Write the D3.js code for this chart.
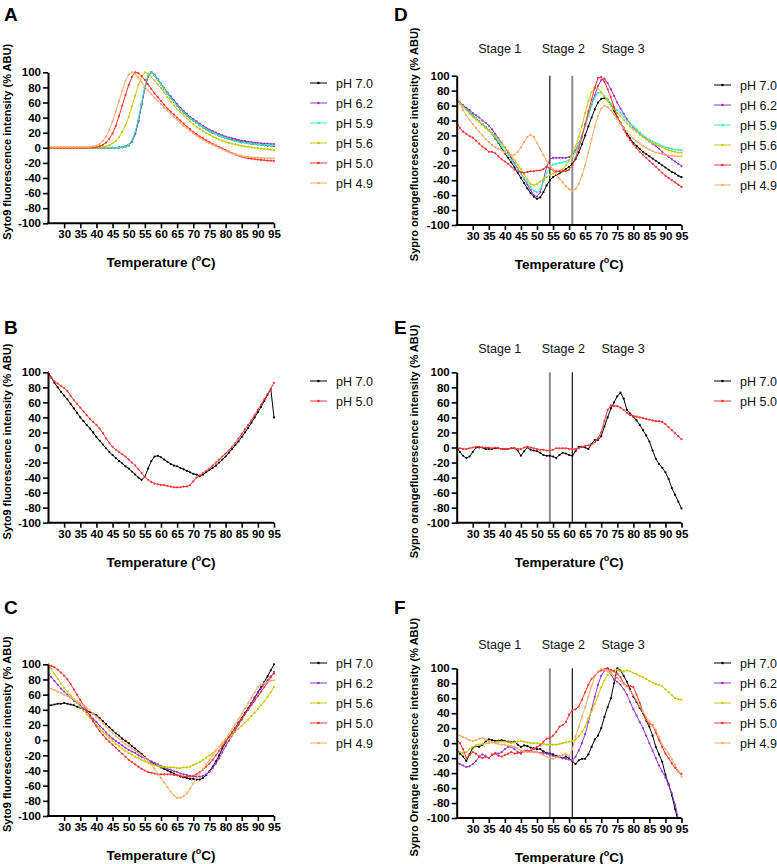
<!DOCTYPE html>
<html><head><meta charset="utf-8">
<script src="https://cdn.jsdelivr.net/npm/d3@7"></script>
<style>
body{margin:0;background:#fff;}
svg text{font-family:"Liberation Sans",Arial,sans-serif;}
</style>
</head><body>
<svg id="chart" width="777" height="864"></svg>
<script>
// ---------- DATA ----------
const temps = [25,26,27,28,29,30,31,32,33,34,35,36,37,38,39,40,41,42,43,44,45,46,47,48,49,50,51,52,53,54,55,56,57,58,59,60,61,62,63,64,65,66,67,68,69,70,71,72,73,74,75,76,77,78,79,80,81,82,83,84,85,86,87,88,89,90,91,92,93,94,95];
const xTickLabels = [30,35,40,45,50,55,60,65,70,75,80,85,90,95];
const yTickLabels = [-100,-80,-60,-40,-20,0,20,40,60,80,100];
const stageLabels = ["Stage 1","Stage 2","Stage 3"];
const stageLabelTemps = [38.4,58.2,76.8];
const stageLineTemps = [54,61];

// Panel A (Syto9, 6 pH)
const A_pH70 = [0,0,0,0,0,0,0,0,0,0, 0,0,0,0,0,0,0,0,0,0, 0,0,0.5,1,2,4,9,19,36,58, 80,95,100,96,90,84,78,72,66,61, 56,51,47,43,39,36,33,30,27,24.5, 22,20,18,16,14.5,13,11.5,10.5,9.5,8.5, 7.5,7,6,5.5,5,4.5,4,3.5,3,3, 2.5];
const A_pH62 = [0,0,0,0,0,0,0,0,0,0, 0,0,0,0,0,0,0,0,0,0, 0,0,0,0.5,1.5,3,8,18,35,57, 79,94,100,97,91,85,79,73,68,63, 58,53,49,45,41,38,35,32,29,26.5, 24,22,20,18,16.5,15,13.5,12.5,11.5,10.5, 9.5,9,8,7.5,7,6.5,6,5.5,5.5,5, 5];
const A_pH59 = [0,0,0,0,0,0,0,0,0,0, 0,0,0,0,0,0,0,0,0,0, 0,0,0.5,1,2,4,10,21,38,60, 82,96,100,96,90,84,78,72,66,61, 56,51,47,43,39,36,33,30,27,24.5, 22,20,18,16,14.5,13,11.5,10,9,8, 7,6.5,6,5.5,5,4.5,4,3.5,3.5,3, 3];
const A_pH56 = [0,0,0,0,0,0,0,0,0,0, 0,0,0,0,0,0,0.5,1,2,3.5, 6,9,14,21,30,41,55,69,83,94, 100,98,94,89,84,79,73,67,61,56, 51,47,43,39,35,31,28,25,22,19.5, 17,15,13,11,9.5,8,6.5,5.5,4.5,3.5, 2.5,2,1,0.5,0,-0.5,-1,-1.5,-2,-2.5, -3];
const A_pH50 = [0,0,0,0,0,0,0,0,0,0, 0,0,0,0,0.5,1,2,4,7,12, 19,29,42,56,70,83,94,100,99,95, 90,84,78,72,67,62,57,52,48,44, 40,36,32,28,25,21,18,15,12.5,10, 7.5,5,3,1,-1,-3,-5,-7,-9,-10.5, -12,-13,-14,-14.5,-15,-15.5,-16,-16.5,-17,-17, -17.5];
const A_pH49 = [1,1,1,1,1,1,1,1,1,1, 1,1,1,1,2,3,5,9,15,24, 35,48,62,76,89,97,100,98,93,87, 81,76,71,66,62,58,53,49,45,41, 37,33,29,26,22,19,16,13,10.5,8, 6,4,2,0,-2,-4,-6,-7.5,-9,-10, -11,-11.5,-12,-12.5,-13,-13,-13.5,-13.5,-14,-14, -14];

// Panel B (Syto9, 2 pH)
const B_pH70 = [100,93,86,80,74,69,64,58,52,46, 40,35,30,25,20,14,9,4,-1,-6, -10,-14,-18,-21,-25,-28,-32,-36,-40,-43, -39,-28,-18,-12,-11,-13,-16,-19,-22,-24, -25,-27,-29,-31,-33,-35,-36,-38,-36,-33, -30,-27,-24,-20,-16,-12,-7,-2,3,8, 14,20,26,33,40,47,54,62,70,78, 40];
const B_pH50 = [100,93,88,85,82,79,75,69,63,58, 53,48,43,38,34,30,25,19,12,6, 1,-3,-6,-9,-12,-16,-20,-24,-29,-34, -39,-43,-46,-48,-49,-50,-50,-51,-52,-53, -53,-53,-52,-52,-50,-45,-40,-37,-34,-31, -28,-24,-20,-16,-12,-8,-4,1,6,12, 18,24,30,36,43,50,57,64,71,78, 86];

// Panel C (Syto9, 5 pH)
const C_pH70 = [46,46,47,48,48,49,48,47,46,44, 43,41,39,37,35,33,29,25,21,17, 13,9,6,2,-1,-4,-8,-11,-15,-18, -22,-26,-29,-32,-34,-36,-38,-40,-42,-44, -46,-48,-49,-50,-51,-51,-52,-52,-50,-46, -41,-35,-28,-20,-11,-3,4,10,16,23, 29,36,42,49,56,63,70,77,84,92, 100];
const C_pH62 = [88,83,78,73,68,64,60,56,52,49, 46,42,37,33,28,24,19,15,10,6, 2,-1,-4,-7,-10,-13,-15,-17,-20,-22, -24,-26,-28,-30,-32,-34,-36,-38,-39,-41, -42,-44,-45,-46,-47,-48,-48,-48,-47,-45, -42,-37,-31,-24,-16,-8,-1,6,13,20, 27,34,41,48,55,62,68,74,79,84, 88];
const C_pH56 = [100,94,87,81,75,69,64,59,54,49, 44,39,34,29,25,20,16,11,7,3, -1,-5,-8,-11,-14,-17,-19,-22,-24,-26, -28,-30,-31,-33,-34,-35,-35,-36,-36,-36, -37,-37,-36,-36,-35,-33,-31,-29,-26,-23, -20,-17,-13,-9,-5,-1,3,7,11,15, 19,23,27,32,36,41,46,51,57,63, 70];
const C_pH50 = [100,98,96,93,89,85,80,74,67,60, 53,46,39,32,25,18,12,7,2,-2, -6,-10,-14,-18,-22,-26,-29,-32,-35,-38, -40,-42,-43,-44,-45,-45,-45,-45,-45,-46, -46,-47,-48,-48,-48,-47,-45,-42,-39,-35, -31,-26,-20,-14,-8,-2,4,10,16,22, 28,34,40,46,52,58,64,70,76,83, 90];
const C_pH49 = [69,68,66,64,62,60,58,56,54,51, 49,46,43,39,35,31,27,22,18,13, 9,5,2,-2,-5,-8,-11,-14,-17,-20, -23,-27,-32,-38,-44,-50,-56,-62,-68,-73, -76,-76,-74,-70,-64,-57,-50,-44,-38,-32, -26,-20,-14,-9,-3,1,8,14,21,28, 35,42,49,56,63,70,73,75,77,78, 79];

// Panel D (Sypro orange, 6 pH)
const D_pH70 = [68,64,60,56,51,47,43,39,35,31, 27,22,16,10,3,-4,-10,-16,-23,-30, -37,-44,-51,-57,-62,-65,-63,-56,-47,-40, -36,-33,-31,-28,-25,-22,-18,-12,-3,8, 20,32,44,55,64,69,70,68,62,53, 44,37,30,23,16,10,6,2,-2,-5, -8,-11,-14,-17,-20,-23,-26,-29,-31,-34, -36];
const D_pH62 = [66,63,60,57,54,50,47,44,40,37, 33,28,22,16,10,4,-3,-10,-17,-24, -31,-38,-46,-53,-60,-62,-56,-40,-22,-12, -10,-10,-10,-10,-10,-9,-6,0,9,20, 33,47,61,74,86,94,96,90,82,73, 64,56,49,42,36,31,27,23,19,15, 12,9,6,2,-2,-6,-9,-12,-15,-18, -21];
const D_pH59 = [67,63,59,55,51,47,43,39,35,31, 27,22,17,11,5,-1,-7,-13,-19,-25, -31,-37,-43,-49,-54,-56,-52,-42,-30,-22, -19,-18,-17,-16,-15,-13,-9,-3,8,20, 33,47,60,71,77,77,73,68,63,58, 54,50,45,40,36,32,28,24,20,17, 14,12,10,8,6,4,3,2,1,0.5, 0];
const D_pH56 = [68,63,58,54,49,45,41,38,34,30, 27,23,19,14,9,4,-1,-7,-13,-19, -25,-32,-39,-45,-47,-45,-42,-39,-36,-33, -31,-29,-27,-25,-20,-14,-6,5,18,33, 50,66,78,84,83,78,72,66,60,55, 50,46,41,36,32,28,25,21,18,15, 12,10,8,6,4,2,0,-1,-2,-3, -3];
const D_pH50 = [38,30,25,22,19,17,13,9,5,2, -2,-2,-4,-8,-12,-15,-18,-22,-26,-28, -29,-30,-29,-28,-28,-27,-27,-25,-22,-24, -27,-28,-28,-28,-28,-26,-20,-10,3,18, 35,52,68,84,97,98,92,82,71,58, 45,36,28,20,14,8,3,-2,-6,-10, -14,-18,-22,-26,-30,-34,-37,-40,-43,-46, -49];
const D_pH49 = [72,62,54,47,41,35,30,25,20,15, 11,7,4,2,0,-3,-5,-7,-6,-2, 4,11,18,21,18,10,2,-6,-14,-20, -26,-32,-38,-43,-48,-52,-54,-52,-45,-34, -20,-3,15,32,46,56,60,58,54,48, 42,36,30,25,20,16,12,9,6,3, 1,-1,-3,-4,-5,-6,-7,-7,-8,-8, -8];

// Panel E (Sypro orange, 2 pH)
const E_pH70 = [0,-6,-11,-14,-12,-6,0,0,0,-2, -2,-2,-1,-1,-2,-2,-2,-1,-1,-4, -11,-5,0,-3,-4,-5,-7,-10,-11,-11, -12,-14,-10,-7,-8,-10,-11,-5,1,1, 0,-2,5,10,10,15,28,40,52,60, 68,73,65,50,45,41,36,30,23,16, 8,-4,-15,-22,-27,-33,-42,-54,-63,-72, -81];
const E_pH50 = [-1,-1,-2,-2,-1,0,1,1,0,0, 0,-1,0,-1,-2,-2,-2,-1,-1,-2, -2,0,1,0,-1,-2,-3,-3,-4,-4, -3,-1,-1,-1,-1,-2,-2,-2,-1,1, 2,3,4,7,12,20,35,50,56,55, 55,53,50,46,43,42,41,40,39,38, 37,36,35,35,34,31,27,23,19,15, 11];

// Panel F (Sypro Orange, 5 pH)
const F_pH70 = [-8,-14,-18,-24,-15,-6,-4,-5,-2,2, 5,4,3,3,4,3,2,1,2,-2, -5,-3,-4,-6,-7,-8,-8,-11,-13,-14, -15,-17,-18,-20,-18,-20,-24,-28,-23,-21, -21,-15,-5,5,10,20,35,48,60,80, 100,97,90,82,72,62,55,47,40,30, 22,10,-5,-15,-25,-42,-55,-70,-88,-105, -120];
const F_pH62 = [-25,-28,-30,-32,-31,-28,-24,-18,-15,-17, -20,-16,-13,-14,-12,-8,-5,-5,-8,-12, -14,-10,-10,-11,-12,-12,-13,-13,-14,-15, -17,-18,-19,-20,-21,-22,-23,-18,-10,0, 12,28,45,62,78,90,97,100,92,85, 82,78,72,65,55,45,37,28,20,10, 0,-10,-20,-30,-38,-46,-56,-67,-82,-100, -118];
const F_pH56 = [-12,-12,-13,-12,-8,-5,-3,-2,-1,0, 0,1,1,2,2,2,1,0,1,2, 3,2,1,0,0,0,-1,-1,-2,-2, -2,-2,-1,0,1,2,3,5,9,15, 22,33,43,52,63,75,84,91,95,97, 98,96,96,97,96,94,92,90,88,86, 83,81,79,78,76,72,68,64,60,59, 58];
const F_pH50 = [5,0,-8,-20,-16,-12,-14,-18,-20,-18, -20,-15,-14,-17,-18,-16,-14,-12,-14,-13, -12,-11,-11,-10,-8,-5,-3,2,6,7, 10,15,22,24,28,38,44,45,49,58, 68,78,86,90,95,97,99,100,98,96, 93,88,80,76,76,75,65,54,42,31, 26,24,14,4,-5,-14,-20,-27,-33,-38, -41];
const F_pH49 = [12,10,8,6,4,3,4,6,7,5, 2,1,0,-1,-2,-2,-3,-4,-5,-7, -10,-11,-12,-12,-12,-12,-14,-16,-18,-20, -21,-19,-18,-16,-14,-18,-8,9,22,35, 48,62,76,89,96,99,98,96,93,90, 87,83,79,75,70,64,57,49,42,35, 29,23,18,8,-2,-8,-14,-21,-29,-37, -45];

const pHColors = {"pH 7.0":"#000000","pH 6.2":"#9933CC","pH 5.9":"#33F2C4","pH 5.6":"#C8C800","pH 5.0":"#FF3333","pH 4.9":"#FFA966"};

// ---------- LAYOUT ----------
const panels = [
  {letter:"A", lx:4, ly:21, x0:48, x1:274, y0:72.3, y1:223.3, legX:336, legY:83, ytitle:"Syto9 fluorescence intensity (% ABU)", ytx:11, stages:null,
   series:[["pH 7.0",A_pH70],["pH 6.2",A_pH62],["pH 5.9",A_pH59],["pH 5.6",A_pH56],["pH 5.0",A_pH50],["pH 4.9",A_pH49]]},
  {letter:"B", lx:4, ly:334, x0:48, x1:274, y0:372.3, y1:522.7, legX:336, legY:381, ytitle:"Syto9 fluorescence intensity (% ABU)", ytx:11, stages:null,
   series:[["pH 7.0",B_pH70],["pH 5.0",B_pH50]]},
  {letter:"C", lx:4, ly:614, x0:48, x1:274, y0:664.3, y1:816, legX:336, legY:663, ytitle:"Syto9 fluorescence intensity (% ABU)", ytx:11, stages:null,
   series:[["pH 7.0",C_pH70],["pH 6.2",C_pH62],["pH 5.6",C_pH56],["pH 5.0",C_pH50],["pH 4.9",C_pH49]]},
  {letter:"D", lx:394, ly:21, x0:456.7, x1:681.5, y0:75.7, y1:225, legX:740, legY:85, ytitle:"Sypro orangefluorescence intensity (% ABU)", ytx:418, stages:{labelY:53, first:"black"},
   series:[["pH 7.0",D_pH70],["pH 6.2",D_pH62],["pH 5.9",D_pH59],["pH 5.6",D_pH56],["pH 5.0",D_pH50],["pH 4.9",D_pH49]]},
  {letter:"E", lx:394, ly:334, x0:456.7, x1:681.5, y0:372.3, y1:522.7, legX:740, legY:381, ytitle:"Sypro orangefluorescence intensity (% ABU)", ytx:418, stages:{labelY:353, first:"gray"},
   series:[["pH 7.0",E_pH70],["pH 5.0",E_pH50]]},
  {letter:"F", lx:394, ly:614, x0:456.7, x1:681.5, y0:668.3, y1:818, legX:740, legY:663, ytitle:"Sypro Orange fluorescence intensity (% ABU)", ytx:418, stages:{labelY:649, first:"gray"},
   series:[["pH 7.0",F_pH70],["pH 6.2",F_pH62],["pH 5.6",F_pH56],["pH 5.0",F_pH50],["pH 4.9",F_pH49]]}
];

const svg = d3.select("#chart");

panels.forEach((p, pi) => {
  const x = d3.scaleLinear().domain([25,95]).range([p.x0,p.x1]);
  const y = d3.scaleLinear().domain([-100,100]).range([p.y1,p.y0]);
  const g = svg.append("g");

  // panel letter
  g.append("text").attr("x",p.lx).attr("y",p.ly).attr("font-size",19).attr("font-weight","bold").text(p.letter);

  // clip
  const cid = "clip"+pi;
  svg.append("clipPath").attr("id",cid).append("rect")
    .attr("x",p.x0).attr("y",p.y0-2).attr("width",p.x1-p.x0+2).attr("height",p.y1-p.y0+3);

  // stage lines and labels
  if (p.stages) {
    stageLineTemps.forEach((t,i) => {
      const isGray = (p.stages.first==="gray") ? i===0 : i===1;
      g.append("line").attr("x1",x(t)).attr("x2",x(t)).attr("y1",y(100)).attr("y2",y(-100))
        .attr("stroke",isGray?"#8c8c8c":"#000").attr("stroke-width",isGray?2:1.1);
    });
    stageLabels.forEach((s,i) => {
      g.append("text").attr("x",x(stageLabelTemps[i])).attr("y",p.stages.labelY)
        .attr("text-anchor","middle").attr("font-size",12.5).attr("fill","#111").text(s);
    });
  }

  // series
  const line = d3.line().x((d,i)=>x(temps[i])).y(d=>y(d)).defined(d=>d!==null);
  const sg = g.append("g").attr("clip-path","url(#"+cid+")");
  p.series.forEach(([name,vals]) => {
    const col = pHColors[name];
    sg.append("path").datum(vals).attr("d",line).attr("fill","none").attr("stroke",col).attr("stroke-width",1);
    sg.selectAll(null).data(vals.map((v,i)=>[temps[i],v]).filter(d=>d[1]!==null && d[1]>=-100 && d[1]<=100))
      .enter().append("circle").attr("cx",d=>x(d[0])).attr("cy",d=>y(d[1])).attr("r",1.1).attr("fill",col);
  });

  // axes
  const yAxis = d3.axisLeft(y).tickValues(yTickLabels).tickSize(5).tickSizeOuter(0).tickPadding(2).tickFormat(d=>String(d));
  const gy = g.append("g").attr("transform",`translate(${p.x0},0)`).call(yAxis);
  const xAxis = d3.axisBottom(x).tickValues(xTickLabels).tickSize(5).tickSizeOuter(0).tickPadding(2).tickFormat(d=>String(d));
  const gx = g.append("g").attr("transform",`translate(0,${p.y1})`).call(xAxis);
  [gx,gy].forEach(a => {
    a.select(".domain").attr("stroke","#000").attr("stroke-width",2);
    a.selectAll(".tick line").attr("stroke","#000").attr("stroke-width",1.6);
    a.selectAll(".tick text").attr("font-family","Liberation Sans, Arial, sans-serif").attr("font-size",11.5).attr("font-weight","bold").attr("fill","#000");
  });
  gx.select(".domain").attr("d",`M${p.x0-1},0H${p.x1}`);

  // x title
  const xt = g.append("text").attr("x",(p.x0+p.x1)/2).attr("y",p.y1+44).attr("text-anchor","middle")
    .attr("font-size",13.5).attr("font-weight","bold");
  xt.append("tspan").text("Temperature (");
  xt.append("tspan").attr("font-size",9).attr("dy",-6).text("o");
  xt.append("tspan").attr("dy",6).text("C)");

  // y title
  g.append("text").attr("transform",`translate(${p.ytx},${(p.y0+p.y1)/2 - 6}) rotate(-90)`)
    .attr("text-anchor","middle").attr("font-size",11).attr("font-weight","bold").text(p.ytitle);

  // legend
  p.series.forEach(([name],i) => {
    const col = pHColors[name];
    const ly = p.legY + i*20;
    g.append("line").attr("x1",p.legX-26).attr("x2",p.legX-9).attr("y1",ly).attr("y2",ly).attr("stroke",col).attr("stroke-width",1);
    g.append("circle").attr("cx",p.legX-17.5).attr("cy",ly).attr("r",1.3).attr("fill",col);
    g.append("text").attr("x",p.legX).attr("y",ly+4.5).attr("font-size",12.5).attr("fill","#111").text(name);
  });
});
</script>
</body></html>
